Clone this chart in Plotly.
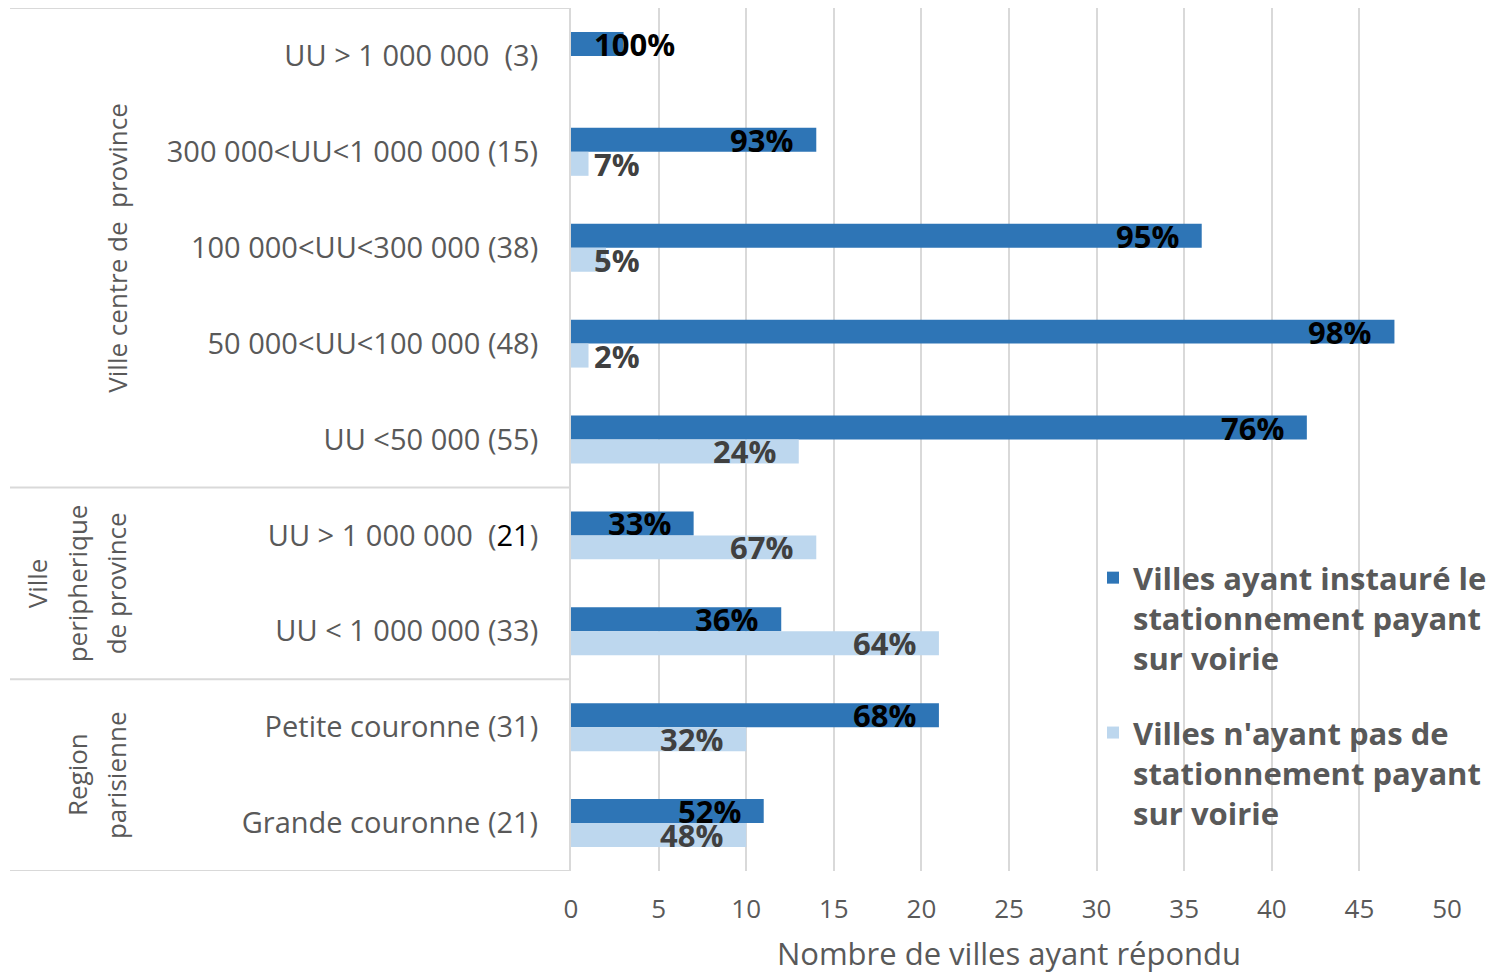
import plotly.graph_objects as go

# ---------------- data ----------------
categories = [
    "UU > 1 000 000  (3)",
    "300 000<UU<1 000 000 (15)",
    "100 000<UU<300 000 (38)",
    "50 000<UU<100 000 (48)",
    "UU <50 000 (55)",
    "UU > 1 000 000  (21)",
    "UU < 1 000 000 (33)",
    "Petite couronne (31)",
    "Grande couronne (21)",
]
tick_text = [
    "UU > 1 000 000  (3)",
    "300 000<UU<1 000 000 (15)",
    "100 000<UU<300 000 (38)",
    "50 000<UU<100 000 (48)",
    "UU <50 000 (55)",
    "UU > 1 000 000  (<span style='color:#000000'>21</span>)",
    "UU < 1 000 000 (33)",
    "Petite couronne (31)",
    "Grande couronne (21)",
]
payant = [3, 14, 36, 47, 42, 7, 12, 21, 11]
non_payant = [0, 1, 2, 1, 13, 14, 21, 10, 10]
pct_payant = ["100%", "93%", "95%", "98%", "76%", "33%", "36%", "68%", "52%"]
pct_non = ["", "7%", "5%", "2%", "24%", "67%", "64%", "32%", "48%"]
series_names = [
    "Villes ayant instauré le<br>stationnement payant<br>sur voirie",
    "Villes n'ayant pas de<br>stationnement payant<br>sur voirie",
]
# groups: (lines of label, first category index, last category index)
groups = [
    (["Ville centre de  province"], 0, 4),
    (["Ville", "peripherique", "de province"], 5, 6),
    (["Region", "parisienne"], 7, 8),
]
x_ticks = [0, 5, 10, 15, 20, 25, 30, 35, 40, 45, 50]
x_title = "Nombre de villes ayant répondu"

# ---------------- style ----------------
DARK = "#2E75B6"
LIGHT = "#BDD7EE"
GRID = "#D9D9D9"
TXT = "#595959"
FONT = "Open Sans"

W, H = 1496, 974
ML, MR, MT, MB = 571, 49, 8, 103
plot_w = W - ML - MR
plot_h = H - MT - MB
px_per_unit = plot_w / (x_ticks[-1] - x_ticks[0])

fig = go.Figure()
fig.add_trace(go.Bar(
    y=categories, x=payant, orientation="h", name=series_names[0],
    legendgroup="a",
    marker=dict(color=DARK, line=dict(width=0)),
))
fig.add_trace(go.Bar(
    y=categories, x=non_payant, orientation="h", name=series_names[1],
    legendgroup="b",
    marker=dict(color=LIGHT, line=dict(width=0)),
))

annotations = []
LBL_SIZE = 31
PAD = 21


def label_width(t):
    return sum(0.6 * LBL_SIZE if c.isdigit() else 0.88 * LBL_SIZE for c in t)


for i, cat in enumerate(categories):
    for val, txt, off, col in ((payant[i], pct_payant[i], -0.125, "#000000"),
                               (non_payant[i], pct_non[i], 0.125, "#404040")):
        if not txt:
            continue
        bar_px = val * px_per_unit
        if bar_px - PAD - label_width(txt) >= PAD:
            ax, anchor, shift = val, "right", -PAD
        else:
            ax, anchor, shift = 0, "left", PAD
        annotations.append(dict(
            x=ax, y=i + off, xref="x", yref="y", text="<b>%s</b>" % txt,
            showarrow=False, xanchor=anchor, yanchor="middle", xshift=shift,
            font=dict(family=FONT, size=LBL_SIZE, color=col),
        ))

# group labels (rotated) at left
line_x_px = {1: [117], 2: [77, 116], 3: [37, 77, 116]}
for lines, a, b in groups:
    xs = line_x_px[len(lines)]
    for ln, xp in zip(lines, xs):
        annotations.append(dict(
            x=(xp - ML) / plot_w, y=(a + b) / 2, xref="paper", yref="y",
            text=ln, showarrow=False, textangle=-90,
            xanchor="center", yanchor="middle",
            font=dict(family=FONT, size=26, color=TXT),
        ))

shapes = []
box_left = (10 - ML) / plot_w
for yv in [-0.5, 4.5, 6.5, 8.5]:
    shapes.append(dict(type="line", xref="paper", yref="y", x0=box_left, x1=0,
                       y0=yv, y1=yv, line=dict(color=GRID, width=2)))

fig.update_layout(
    width=W, height=H,
    margin=dict(l=ML, r=MR, t=MT, b=MB, pad=0, autoexpand=False),
    paper_bgcolor="white", plot_bgcolor="white",
    barmode="group", bargap=0.5, bargroupgap=0,
    font=dict(family=FONT, color=TXT),
    annotations=annotations, shapes=shapes,
    legend=dict(
        x=(1093 - ML) / plot_w, y=(871 - 551) / plot_h,
        xanchor="left", yanchor="top",
        font=dict(family=FONT, size=31, color=TXT, weight="bold"),
        bgcolor="rgba(0,0,0,0)", valign="top", tracegroupgap=31,
        traceorder="grouped",
    ),
    xaxis=dict(
        range=[x_ticks[0], x_ticks[-1]], tickvals=x_ticks,
        showgrid=True, gridcolor=GRID, gridwidth=2,
        zeroline=False, showline=False, ticks="", automargin=False,
        tickfont=dict(family=FONT, size=26, color=TXT),
        ticklabelstandoff=20,
        title=dict(text=x_title, font=dict(family=FONT, size=31, color=TXT), standoff=19),
    ),
    yaxis=dict(
        type="category", categoryorder="array", categoryarray=categories,
        tickvals=categories, ticktext=tick_text, automargin=False,
        range=[len(categories) - 0.5, -0.5],
        showgrid=False, zeroline=False, showline=True, linecolor=GRID, linewidth=2,
        ticks="", ticklabelstandoff=25,
        tickfont=dict(family=FONT, size=29, color=TXT),
    ),
)

fig.write_html("out.html", config={"displayModeBar": False},
               post_script="document.body.style.margin='0px';")
